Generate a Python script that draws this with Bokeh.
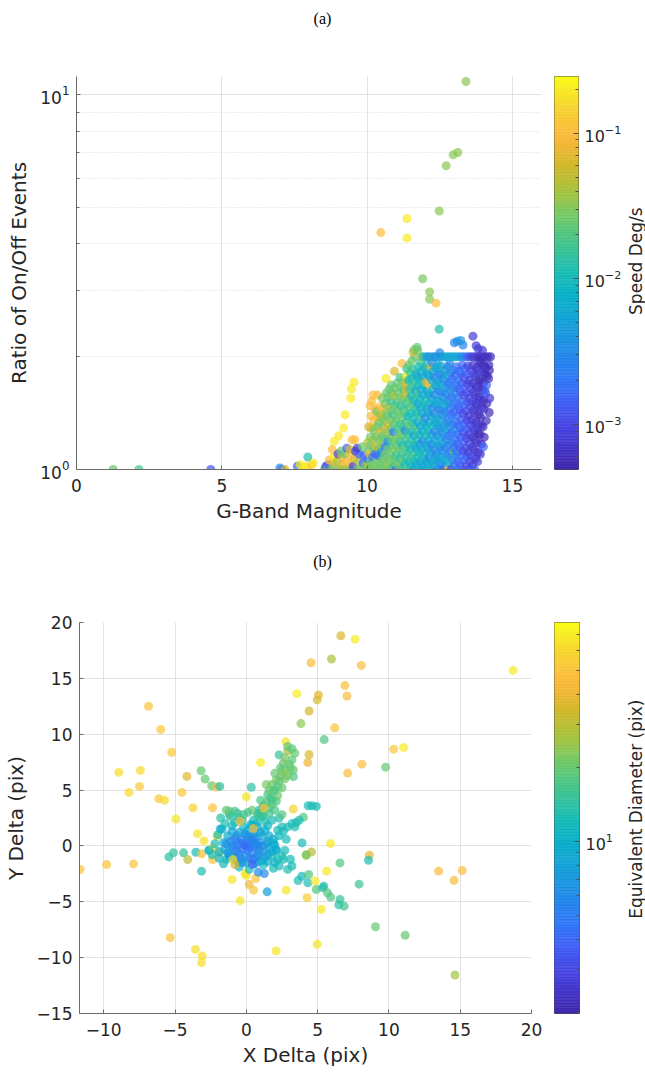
import numpy as np
from bokeh.plotting import figure
from bokeh.layouts import column, row
from bokeh.models import ColumnDataSource, Range1d, FixedTicker, LogTickFormatter
from bokeh.core.properties import value
from bokeh.transform import log_cmap
from bokeh.embed import file_html
from bokeh.resources import INLINE

# ---------------------------------------------------------------------------
# (a) stars: (G-band magnitude, on/off event ratio, apparent speed deg/s)
# ---------------------------------------------------------------------------
a_isolated = [
    (1.26, 1.00, .025), (2.15, 1.00, .018), (4.62, 1.00, .0012), (7.00, 1.01, .003),
    (7.08, 1.00, .002), (7.17, 1.00, .065), (7.60, 1.02, .0015), (7.70, 1.03, .2),
    (7.78, 1.00, .2), (7.88, 1.02, .2), (7.95, 1.01, .2), (8.10, 1.03, .1),
    (7.96, 1.08, .012), (8.15, 1.04, .2),
]
a_outliers = [
    (13.40, 10.86, .032), (13.12, 7.02, .032), (12.96, 6.92, .032), (12.72, 6.47, .032),
    (12.48, 4.90, .032), (11.37, 4.68, .2), (10.47, 4.29, .1), (11.37, 4.15, .2),
    (11.91, 3.23, .028), (12.15, 2.98, .032), (12.15, 2.85, .032), (12.37, 2.78, .1),
    (12.48, 2.37, .012), (13.64, 2.27, .0008), (13.22, 2.21, .004), (13.10, 2.20, .004),
    (13.00, 2.18, .003), (13.75, 2.14, .0008), (13.82, 2.10, .0008), (11.62, 2.09, .03),
    (11.72, 2.12, .025),
]
a_band_9 = [
    (8.52, 1.00, .025), (8.58, 1.02, .0008), (8.63, 1.00, .03), (8.66, 1.03, .0015), (8.70, 1.06, .1),
    (8.78, 1.00, .025), (8.82, 1.04, .065), (8.85, 1.08, .2), (8.80, 1.13, .1), (8.87, 1.19, .2),
    (8.93, 1.00, .03), (8.97, 1.05, .04), (9.00, 1.10, .0008), (9.02, 1.23, .2),
    (9.08, 1.00, .03), (9.12, 1.03, .065), (9.14, 1.08, .065), (9.10, 1.12, .025), (9.19, 1.29, .2),
    (9.24, 1.40, .2), (9.22, 1.00, .04), (9.27, 1.05, .1), (9.25, 1.10, .025), (9.30, 1.14, .0015),
    (9.38, 1.00, .025), (9.41, 1.04, .1), (9.43, 1.09, .1), (9.40, 1.13, .065), (9.44, 1.55, .2),
    (9.46, 1.64, .2), (9.55, 1.71, .2), (9.48, 1.20, .1), (9.58, 1.20, .1),
    (9.52, 1.02, .0008), (9.56, 1.07, .065), (9.60, 1.12, .0008),
    (9.68, 1.00, .025), (9.70, 1.05, .04), (9.72, 1.10, .0015), (9.66, 1.14, .0008),
    (9.82, 1.00, .03), (9.86, 1.04, .0015), (9.88, 1.09, .0015), (9.84, 1.15, .025), (9.93, 1.02, .025),
]
a_band_10 = [
    (10.00, 1.00, .025), (10.03, 1.03, .04), (10.01, 1.07, .002), (10.04, 1.12, .025), (10.02, 1.18, .04), (10.05, 1.30, .065),
    (10.10, 1.00, .03), (10.12, 1.05, .025), (10.09, 1.10, .1), (10.13, 1.16, .025), (10.11, 1.22, .03), (10.14, 1.29, .065),
    (10.13, 1.39, .1), (10.10, 1.48, .1), (10.20, 1.58, .1),
    (10.22, 1.02, .025), (10.19, 1.08, .002), (10.23, 1.13, .025), (10.21, 1.20, .04), (10.24, 1.27, .025), (10.22, 1.35, .1),
    (10.27, 1.45, .1), (10.16, 1.52, .1),
    (10.30, 1.00, .025), (10.33, 1.05, .03), (10.29, 1.10, .0015), (10.32, 1.15, .065), (10.31, 1.22, .025), (10.34, 1.30, .03),
    (10.36, 1.38, .1), (10.36, 1.58, .1), (10.33, 1.43, .025),
    (10.40, 1.00, .03), (10.43, 1.04, .025), (10.39, 1.09, .002), (10.42, 1.14, .025), (10.41, 1.20, .03), (10.44, 1.26, .065),
    (10.40, 1.33, .025), (10.45, 1.40, .04), (10.43, 1.47, .1),
    (10.50, 1.01, .025), (10.53, 1.06, .025), (10.49, 1.11, .003), (10.52, 1.17, .03), (10.51, 1.23, .025), (10.54, 1.30, .025),
    (10.50, 1.37, .04), (10.55, 1.45, .1), (10.52, 1.55, .03),
    (10.60, 1.00, .025), (10.63, 1.04, .03), (10.59, 1.09, .025), (10.62, 1.15, .002), (10.61, 1.21, .025), (10.64, 1.28, .065),
    (10.60, 1.35, .025), (10.65, 1.42, .03), (10.62, 1.50, .025), (10.66, 1.60, .025), (10.65, 1.75, .2),
    (10.70, 1.02, .03), (10.73, 1.07, .025), (10.69, 1.13, .025), (10.72, 1.19, .003), (10.71, 1.25, .03), (10.74, 1.32, .065),
    (10.70, 1.39, .025), (10.75, 1.47, .04), (10.72, 1.56, .025), (10.76, 1.64, .025),
    (10.80, 1.00, .025), (10.83, 1.05, .03), (10.79, 1.10, .025), (10.82, 1.16, .016), (10.81, 1.22, .025), (10.84, 1.29, .025),
    (10.80, 1.36, .03), (10.85, 1.44, .025), (10.82, 1.52, .016), (10.86, 1.60, .025), (10.83, 1.68, .025),
    (10.90, 1.02, .016), (10.93, 1.07, .025), (10.89, 1.13, .03), (10.92, 1.19, .025), (10.91, 1.26, .002), (10.94, 1.33, .025),
    (10.90, 1.40, .016), (10.95, 1.48, .025), (10.92, 1.57, .04), (10.96, 1.65, .025), (10.94, 1.83, .065),
]
a_band_11 = [
    (11.00, 1.00, .0015), (11.03, 1.04, .025), (10.99, 1.09, .016), (11.02, 1.15, .025), (11.01, 1.21, .03), (11.04, 1.28, .016),
    (11.00, 1.35, .025), (11.05, 1.43, .025), (11.02, 1.51, .016), (11.06, 1.60, .025), (11.03, 1.70, .025),
    (11.10, 1.02, .025), (11.13, 1.07, .016), (11.09, 1.13, .025), (11.12, 1.19, .016), (11.11, 1.25, .025), (11.14, 1.32, .016),
    (11.10, 1.40, .025), (11.15, 1.48, .016), (11.12, 1.56, .03), (11.16, 1.66, .025), (11.13, 1.76, .016),
    (11.20, 1.00, .016), (11.23, 1.05, .025), (11.19, 1.10, .016), (11.22, 1.16, .01), (11.21, 1.23, .025), (11.24, 1.30, .016),
    (11.20, 1.37, .025), (11.25, 1.45, .016), (11.22, 1.54, .025), (11.26, 1.63, .016), (11.23, 1.73, .025), (11.20, 1.92, .1),
    (11.30, 1.03, .01), (11.33, 1.08, .016), (11.29, 1.14, .025), (11.32, 1.20, .016), (11.31, 1.27, .003), (11.34, 1.34, .016),
    (11.30, 1.42, .025), (11.35, 1.50, .016), (11.33, 1.58, .065), (11.33, 1.64, .065), (11.32, 1.70, .065), (11.35, 1.78, .2),
    (11.36, 1.86, .016),
    (11.40, 1.00, .025), (11.43, 1.05, .01), (11.39, 1.11, .016), (11.42, 1.17, .01), (11.41, 1.24, .016), (11.44, 1.31, .025),
    (11.40, 1.39, .01), (11.45, 1.47, .016), (11.42, 1.55, .025), (11.46, 1.64, .016), (11.43, 1.73, .01), (11.47, 1.82, .016),
    (11.44, 1.90, .025),
    (11.50, 1.02, .01), (11.53, 1.07, .016), (11.49, 1.13, .01), (11.52, 1.19, .016), (11.51, 1.26, .01), (11.54, 1.33, .016),
    (11.50, 1.41, .01), (11.55, 1.49, .025), (11.52, 1.57, .01), (11.56, 1.66, .016), (11.53, 1.75, .01), (11.57, 1.85, .016),
    (11.54, 1.95, .025),
    (11.60, 1.00, .006), (11.63, 1.05, .01), (11.59, 1.10, .016), (11.62, 1.16, .01), (11.61, 1.23, .006), (11.64, 1.30, .016),
    (11.60, 1.37, .01), (11.65, 1.45, .016), (11.62, 1.53, .01), (11.66, 1.62, .006), (11.63, 1.71, .016), (11.67, 1.80, .01),
    (11.64, 2.00, .025), (11.58, 2.06, .065),
    (11.70, 1.03, .006), (11.73, 1.08, .01), (11.69, 1.14, .006), (11.72, 1.20, .01), (11.71, 1.27, .016), (11.74, 1.34, .006),
    (11.70, 1.42, .01), (11.75, 1.50, .006), (11.72, 1.59, .016), (11.76, 1.68, .01), (11.73, 1.77, .006), (11.77, 1.88, .01),
    (11.74, 2.08, .025),
    (11.80, 1.00, .01), (11.83, 1.05, .006), (11.79, 1.11, .01), (11.82, 1.17, .006), (11.81, 1.24, .01), (11.84, 1.31, .006),
    (11.80, 1.39, .016), (11.85, 1.47, .006), (11.82, 1.55, .01), (11.86, 1.64, .006), (11.83, 1.73, .01), (11.87, 1.83, .006),
    (11.84, 1.93, .016), (11.88, 2.00, .04),
    (11.90, 1.02, .006), (11.93, 1.07, .01), (11.89, 1.13, .006), (11.92, 1.19, .003), (11.91, 1.26, .006), (11.94, 1.33, .01),
    (11.90, 1.41, .006), (11.95, 1.49, .01), (11.92, 1.58, .006), (11.96, 1.67, .01), (11.93, 1.76, .006), (11.97, 1.86, .01),
    (11.94, 2.00, .01),
]
a_band_12 = [
    (12.00, 1.00, .006), (12.03, 1.05, .006), (11.99, 1.10, .01), (12.02, 1.16, .006), (12.01, 1.23, .01), (12.04, 1.30, .006),
    (12.00, 1.37, .003), (12.05, 1.45, .006), (12.02, 1.53, .01), (12.06, 1.62, .006), (12.03, 1.71, .065), (12.07, 1.80, .006),
    (12.04, 1.90, .01), (12.05, 2.00, .006),
    (12.10, 1.03, .006), (12.13, 1.08, .003), (12.09, 1.14, .006), (12.12, 1.20, .006), (12.11, 1.27, .01), (12.14, 1.34, .006),
    (12.10, 1.42, .006), (12.15, 1.50, .01), (12.12, 1.59, .006), (12.16, 1.68, .1), (12.13, 1.78, .006), (12.19, 1.88, .065),
    (12.14, 2.00, .003),
    (12.20, 1.00, .01), (12.23, 1.05, .006), (12.19, 1.11, .006), (12.22, 1.17, .003), (12.21, 1.24, .006), (12.24, 1.31, .01),
    (12.20, 1.39, .006), (12.25, 1.47, .003), (12.22, 1.55, .006), (12.26, 1.64, .01), (12.23, 1.73, .006), (12.27, 1.83, .006),
    (12.24, 1.93, .003), (12.25, 2.00, .006),
    (12.30, 1.02, .006), (12.33, 1.07, .006), (12.29, 1.13, .003), (12.32, 1.19, .006), (12.31, 1.26, .003), (12.34, 1.33, .006),
    (12.30, 1.41, .003), (12.35, 1.49, .006), (12.32, 1.58, .003), (12.36, 1.67, .006), (12.33, 1.76, .003), (12.37, 1.86, .006),
    (12.34, 2.00, .003),
    (12.40, 1.00, .003), (12.43, 1.05, .006), (12.39, 1.10, .003), (12.42, 1.16, .006), (12.41, 1.23, .003), (12.44, 1.30, .006),
    (12.40, 1.37, .006), (12.45, 1.45, .003), (12.42, 1.53, .006), (12.46, 1.62, .003), (12.43, 1.71, .006), (12.47, 1.80, .003),
    (12.44, 1.90, .006), (12.45, 2.00, .006), (12.50, 2.05, .003),
    (12.50, 1.00, .006), (12.53, 1.04, .003), (12.49, 1.09, .006), (12.52, 1.15, .003), (12.51, 1.22, .006), (12.54, 1.29, .003),
    (12.50, 1.36, .006), (12.55, 1.44, .003), (12.52, 1.52, .006), (12.56, 1.61, .003), (12.53, 1.70, .006), (12.57, 1.79, .003),
    (12.54, 1.89, .006), (12.55, 2.00, .003),
    (12.60, 1.00, .0015), (12.63, 1.06, .006), (12.59, 1.12, .003), (12.62, 1.18, .006), (12.61, 1.25, .003), (12.64, 1.32, .006),
    (12.60, 1.40, .003), (12.65, 1.48, .006), (12.62, 1.56, .003), (12.66, 1.65, .006), (12.63, 1.74, .003), (12.67, 1.84, .006),
    (12.65, 2.00, .006),
    (12.70, 1.02, .003), (12.73, 1.08, .006), (12.69, 1.14, .003), (12.72, 1.20, .003), (12.71, 1.27, .006), (12.74, 1.34, .003),
    (12.70, 1.42, .003), (12.75, 1.50, .006), (12.72, 1.59, .003), (12.76, 1.68, .003), (12.73, 1.78, .006), (12.77, 1.88, .003),
    (12.75, 2.00, .006),
    (12.80, 1.00, .1), (12.83, 1.04, .01), (12.79, 1.10, .003), (12.82, 1.16, .003), (12.81, 1.23, .002), (12.84, 1.30, .003),
    (12.80, 1.37, .003), (12.85, 1.45, .002), (12.82, 1.53, .003), (12.86, 1.62, .003), (12.83, 1.71, .002), (12.87, 1.81, .003),
    (12.84, 1.92, .003), (12.85, 2.00, .006),
    (12.90, 1.00, .0008), (12.93, 1.06, .003), (12.89, 1.12, .002), (12.92, 1.18, .003), (12.91, 1.25, .002), (12.94, 1.32, .003),
    (12.90, 1.40, .002), (12.95, 1.48, .003), (12.92, 1.56, .002), (12.96, 1.65, .003), (12.93, 1.74, .002), (12.97, 1.84, .003),
    (12.95, 2.00, .006), (12.97, 1.12, .025),
]
a_band_13 = [
    (13.00, 1.02, .002), (13.03, 1.08, .003), (12.99, 1.14, .002), (13.02, 1.20, .002), (13.01, 1.27, .003), (13.04, 1.34, .002),
    (13.00, 1.42, .0015), (13.05, 1.50, .002), (13.02, 1.59, .003), (13.06, 1.68, .002), (13.03, 1.78, .0015), (13.07, 1.88, .002),
    (13.05, 2.00, .006),
    (13.10, 1.00, .002), (13.13, 1.05, .0015), (13.09, 1.11, .002), (13.12, 1.17, .0015), (13.11, 1.24, .002), (13.14, 1.31, .0015),
    (13.10, 1.39, .002), (13.15, 1.47, .0015), (13.12, 1.55, .002), (13.16, 1.64, .0015), (13.13, 1.73, .002), (13.17, 1.83, .0015),
    (13.15, 2.00, .006),
    (13.20, 1.03, .0015), (13.23, 1.09, .002), (13.19, 1.15, .0015), (13.22, 1.22, .0015), (13.21, 1.29, .002), (13.24, 1.36, .0015),
    (13.20, 1.44, .0015), (13.25, 1.52, .002), (13.22, 1.61, .0015), (13.26, 1.70, .0015), (13.23, 1.80, .002), (13.27, 1.90, .0015),
    (13.25, 2.00, .003),
    (13.30, 1.00, .0015), (13.33, 1.06, .0015), (13.29, 1.12, .001), (13.32, 1.19, .0015), (13.31, 1.26, .001), (13.34, 1.33, .0015),
    (13.30, 1.41, .001), (13.35, 1.49, .0015), (13.32, 1.58, .001), (13.36, 1.67, .0015), (13.33, 1.76, .001), (13.37, 1.86, .0015),
    (13.35, 2.00, .003), (13.30, 2.15, .003),
    (13.40, 1.02, .001), (13.43, 1.08, .0015), (13.39, 1.14, .001), (13.42, 1.21, .001), (13.41, 1.28, .0015), (13.44, 1.35, .001),
    (13.40, 1.43, .001), (13.45, 1.51, .0015), (13.42, 1.60, .001), (13.46, 1.69, .001), (13.43, 1.79, .0015), (13.47, 1.89, .001),
    (13.45, 2.00, .0015),
    (13.50, 1.00, .001), (13.53, 1.05, .001), (13.49, 1.11, .0008), (13.52, 1.17, .001), (13.51, 1.24, .0008), (13.54, 1.31, .001),
    (13.50, 1.39, .0008), (13.55, 1.47, .001), (13.52, 1.55, .0008), (13.56, 1.64, .001), (13.53, 1.73, .0008), (13.57, 1.83, .001),
    (13.55, 2.00, .001),
    (13.60, 1.00, .0015), (13.63, 1.03, .0008), (13.59, 1.09, .001), (13.62, 1.15, .0008), (13.61, 1.22, .0008), (13.64, 1.29, .001),
    (13.60, 1.36, .0008), (13.65, 1.44, .0008), (13.62, 1.52, .001), (13.66, 1.61, .0008), (13.63, 1.70, .0008), (13.67, 1.80, .001),
    (13.64, 1.90, .0008), (13.65, 2.00, .0008),
    (13.70, 1.00, .0015), (13.73, 1.07, .0008), (13.69, 1.13, .0008), (13.72, 1.20, .0006), (13.71, 1.27, .0008), (13.74, 1.34, .0006),
    (13.70, 1.42, .0008), (13.75, 1.50, .0006), (13.72, 1.58, .0008), (13.76, 1.67, .0006), (13.73, 1.77, .0008), (13.77, 1.87, .0006),
    (13.75, 2.00, .0008),
    (13.80, 1.05, .0008), (13.83, 1.11, .0006), (13.79, 1.18, .0008), (13.82, 1.25, .0006), (13.81, 1.32, .0008), (13.84, 1.40, .0006),
    (13.80, 1.48, .0008), (13.85, 1.56, .0006), (13.82, 1.65, .0008), (13.86, 1.74, .0006), (13.83, 1.84, .0008), (13.87, 1.95, .0006),
    (13.85, 2.00, .0006),
    (13.90, 1.10, .0008), (13.93, 1.17, .0006), (13.89, 1.24, .0006), (13.92, 1.31, .0008), (13.91, 1.38, .0006), (13.94, 1.46, .0006),
    (13.90, 1.54, .0008), (13.95, 1.63, .0006), (13.92, 1.72, .0006), (13.96, 1.82, .0008), (13.93, 1.92, .0006), (13.95, 2.00, .0006),
    (14.00, 1.15, .0015), (14.03, 1.22, .0006), (13.99, 1.30, .0006), (14.02, 1.45, .0008), (14.01, 1.53, .0006), (14.04, 1.62, .0008),
    (14.00, 1.70, .0006), (14.05, 1.80, .0006), (14.02, 1.90, .0006), (14.05, 2.00, .0006), (13.97, 2.08, .0008),
    (14.10, 1.35, .0006), (14.12, 1.50, .0006), (14.08, 1.60, .0015), (14.11, 1.68, .0015), (14.13, 1.78, .0006), (14.09, 1.87, .0006),
    (14.15, 2.00, .0006),
    (14.20, 1.42, .0006), (14.22, 1.55, .0008), (14.18, 1.75, .0006), (14.21, 1.84, .0006), (14.19, 1.90, .0006), (14.25, 2.00, .0006),
]

# ---------------------------------------------------------------------------
# (b) detections: (x offset pix, y offset pix, equivalent diameter pix)
# ---------------------------------------------------------------------------
b_outer = [
    (6.63, 18.81, 36), (7.63, 18.51, 70), (4.54, 16.40, 48), (5.97, 16.73, 28), (8.06, 16.16, 48),
    (18.71, 15.71, 68), (3.54, 13.63, 70), (5.06, 13.51, 38), (4.97, 13.07, 36), (6.91, 14.35, 48),
    (7.06, 13.42, 48), (-6.86, 12.50, 50), (4.40, 12.08, 34), (-6.00, 10.42, 52), (3.83, 10.95, 24),
    (6.20, 10.57, 50), (5.46, 9.52, 18), (-5.23, 8.39, 52), (2.77, 9.32, 66), (10.34, 8.66, 52),
    (11.03, 8.81, 70), (4.40, 8.18, 36), (8.11, 7.32, 48), (9.77, 7.05, 20), (7.11, 6.52, 48),
    (1.00, 7.47, 70), (4.31, 7.47, 40), (-8.94, 6.58, 64), (-7.43, 6.76, 62), (-4.17, 6.22, 38),
    (-3.17, 6.73, 20), (-2.89, 5.98, 20), (-8.23, 4.79, 62), (-7.49, 5.33, 52), (-4.51, 4.79, 52),
    (-2.43, 5.39, 20), (-2.06, 5.27, 48), (-1.86, 5.33, 14), (-6.14, 4.23, 52), (-5.74, 4.08, 62),
    (-3.74, 3.42, 58), (-2.37, 3.42, 50), (-4.94, 2.41, 66), (-3.43, 1.10, 65), (-2.97, 0.45, 65),
    (-2.06, 0.86, 66), (-1.83, 1.52, 9), (-11.66, -2.11, 50), (-9.80, -1.67, 50), (-7.91, -1.61, 50),
    (-5.43, -0.98, 14), (-5.11, -0.60, 15), (-4.40, -0.62, 15), (-4.11, -1.22, 30), (-3.54, -0.57, 12),
    (-3.14, -2.26, 13), (-3.14, -0.71, 48), (-2.63, -0.39, 10), (-2.37, -1.22, 50), (-2.37, -0.18, 62),
    (-1.89, -0.62, 50), (-1.00, -3.00, 66), (-0.43, -4.90, 66), (-0.09, -2.50, 66), (0.00, -2.65, 66),
    (0.20, -3.45, 40), (0.66, -2.92, 50), (0.51, -3.96, 50), (1.46, -4.11, 8), (1.26, -2.47, 6),
    (0.83, -2.35, 6), (2.80, -3.96, 66), (3.63, -3.10, 13), (3.89, -2.71, 12), (4.31, -3.30, 13),
    (4.26, -4.64, 56), (4.37, -2.56, 18), (4.83, -3.15, 68), (4.91, -3.90, 18), (5.37, -3.75, 15),
    (5.63, -2.26, 68), (5.43, -3.60, 13), (5.69, -4.20, 18), (5.91, -4.58, 18), (5.26, -5.68, 68),
    (6.57, -4.79, 15), (6.49, -5.27, 14), (6.86, -5.39, 16), (6.57, -1.52, 18), (5.91, 0.21, 68),
    (8.63, -0.83, 38), (8.57, -1.28, 13), (7.91, -3.42, 16), (3.91, 0.27, 12), (4.20, -0.83, 28),
    (4.57, -0.54, 30), (4.34, 3.60, 12), (4.91, 3.54, 12), (4.60, 3.60, 12), (3.29, 3.30, 58),
    (4.00, 2.56, 18), (9.06, -7.23, 20), (11.14, -8.00, 20), (13.49, -2.26, 48), (14.57, -3.07, 48),
    (15.14, -2.20, 48), (14.63, -11.55, 26), (-5.34, -8.21, 50), (-3.57, -9.26, 64), (-3.09, -9.85, 64),
    (-3.14, -10.45, 64), (2.09, -9.40, 66), (4.97, -8.81, 66),
]
b_core_teal = [
    (-2.20, 0.20, 12), (-2.00, 1.00, 12), (-1.50, 2.00, 13), (-0.80, 2.10, 12), (-0.30, 2.30, 13),
    (0.50, 2.30, 12), (1.00, 2.60, 13), (1.80, 2.30, 12), (2.50, 1.70, 12), (2.90, 1.70, 12),
    (3.20, 2.00, 12), (3.50, 2.10, 13), (2.30, 0.90, 11), (2.60, 1.30, 12), (1.90, 0.25, 11),
    (2.10, -0.35, 11), (1.80, -0.90, 12), (2.20, -1.20, 12), (2.60, -1.20, 12), (3.10, -1.20, 12),
    (3.20, -1.80, 12), (2.90, -2.10, 13), (2.30, -1.80, 12), (1.90, -2.00, 12), (0.90, -1.40, 11),
    (1.20, -1.70, 12), (-1.20, -0.80, 11), (-1.40, -1.20, 12), (-2.60, -0.40, 12), (-1.80, 2.50, 14),
    (-1.20, 2.80, 14), (-0.50, 2.50, 13), (0.40, 1.80, 11), (0.80, 2.90, 14), (1.20, 3.60, 13),
    (0.90, 3.20, 12), (0.35, 5.25, 14), (2.30, 8.15, 15), (2.50, -0.90, 13),
    (-2.40, -0.80, 12), (-1.90, -1.10, 11), (-1.00, 1.80, 12), (-0.20, 1.70, 11), (0.70, 2.00, 11),
    (1.50, 1.80, 11), (2.20, 1.40, 12), (2.80, 0.60, 12), (2.70, -0.40, 12), (2.00, -1.50, 11),
    (1.50, -1.40, 10), (0.20, -2.10, 12), (-0.50, -1.90, 11), (-1.60, -1.60, 12), (1.30, 2.20, 12),
    (3.40, 1.70, 13), (2.30, 2.50, 13), (3.70, 2.30, 13),
]
b_core_cyan = [
    (-1.50, -0.30, 8), (-1.30, 0.90, 9), (-1.00, 1.30, 9), (-0.50, 1.20, 8), (0.10, 1.40, 9),
    (0.60, 1.20, 8.5), (1.10, 0.90, 9), (1.50, 0.40, 8), (1.60, -0.20, 9), (1.50, -0.80, 8.5),
    (1.10, -1.30, 9), (0.60, -1.60, 8), (0.00, -1.50, 8.5), (-0.60, -1.40, 9), (-1.20, -1.00, 8),
    (-1.60, 0.30, 9), (-0.90, -0.90, 7.5), (1.30, 1.40, 10), (0.80, 1.70, 9.5), (1.90, 0.60, 10),
    (2.10, -0.40, 9.5), (-1.90, -0.50, 10), (-1.70, 1.50, 10), (0.30, 1.90, 10),
    (-1.30, -0.60, 7), (1.40, 0.20, 7.5), (1.30, -1.00, 8), (0.20, -1.10, 6.5), (-0.30, -1.50, 7),
    (-0.80, -1.10, 8), (-1.40, 0.20, 7), (1.60, 0.90, 9), (-0.70, 0.90, 7), (0.50, 0.90, 7),
    (1.00, 1.20, 8), (2.00, 0.10, 9), (1.80, -0.50, 8.5), (-0.10, 1.10, 7.5),
]
b_core_blue = [
    (-0.90, -0.20, 5), (-0.60, 0.10, 5.5), (-0.30, -0.30, 4.5), (0.00, 0.00, 5), (0.30, 0.20, 6),
    (0.60, -0.10, 5.5), (0.90, 0.30, 6.5), (-0.50, -0.70, 5), (-0.10, -0.90, 6), (0.40, -0.60, 5),
    (0.80, -0.80, 6.5), (-1.10, 0.40, 6), (-0.80, 0.60, 5.5), (-0.30, 0.50, 5), (0.20, 0.70, 6),
    (0.60, 0.60, 6.5), (1.10, 0.00, 7), (1.20, -0.50, 7), (-0.20, 0.25, 4.5), (0.10, -0.40, 5),
    (0.50, 0.35, 5.5), (-0.70, -0.45, 5.5), (0.00, 0.90, 6.5), (0.45, -1.20, 4), (-0.40, -1.10, 6),
    (0.25, -0.15, 4.5), (-0.15, 0.05, 4), (0.70, 0.15, 6),
    (-1.00, 0.00, 6), (-0.50, 0.30, 5), (0.30, 0.50, 5.5), (0.80, 0.00, 6), (0.90, -0.40, 6),
    (0.70, -1.00, 6),
]
b_arm_green = [
    (1.20, 3.50, 18), (1.60, 3.40, 20), (2.10, 4.00, 18), (1.70, 4.30, 16), (1.50, 4.60, 17),
    (1.90, 4.90, 19), (1.60, 5.00, 20), (1.80, 5.50, 20), (2.10, 5.90, 22), (2.30, 5.80, 19),
    (2.40, 6.20, 20), (2.50, 6.70, 22), (2.80, 6.70, 24), (3.30, 6.80, 20), (3.30, 6.20, 18),
    (2.60, 7.40, 20), (3.00, 7.30, 20), (3.20, 7.70, 19), (2.90, 8.50, 28), (2.90, 8.90, 20),
    (3.20, 8.70, 19), (2.50, 2.80, 18), (0.40, 3.20, 20), (0.80, 2.70, 16), (1.20, 2.70, 15),
    (-1.40, 3.20, 20), (-1.20, 3.10, 20), (-0.80, 3.10, 16), (-1.10, 2.60, 15), (4.20, -0.80, 22),
    (-0.60, 2.90, 16), (1.00, 4.10, 18), (1.40, 5.50, 22), (2.00, 6.50, 20), (2.70, 7.90, 22),
    (1.40, 3.90, 18), (1.80, 3.70, 19), (2.20, 4.50, 20), (1.80, 4.10, 17), (2.50, 5.20, 20),
    (2.20, 5.30, 19), (2.70, 6.00, 21), (2.90, 6.30, 21), (3.10, 7.00, 20), (2.40, 7.00, 19),
    (1.10, 3.00, 16), (1.60, 2.90, 16), (2.00, 3.20, 17), (0.10, 3.00, 17), (-0.20, 2.80, 16),
    (3.40, 8.30, 20), (2.00, 5.00, 18),
]
b_core_other = [
    (-0.43, 2.20, 48), (1.23, 3.39, 50), (-0.94, -1.22, 62), (-0.80, -1.67, 35), (0.00, 4.40, 66),
    (0.43, -1.67, 4), (0.50, 1.55, 48),
]

captions = ["(a)", "(b)"]
bar_titles = ["Speed Deg/s", "Equivalent Diameter (pix)"]

# colour-scale limits of the two colour bars
SPEED_LOW, SPEED_HIGH = 4.9e-4, 0.245
DIAM_LOW, DIAM_HIGH = 1.99, 78.3

# parula-style colour ramp
parula_stops = [
    (0.00, (62, 38, 168)), (0.04, (66, 48, 192)), (0.11, (71, 70, 228)), (0.17, (64, 95, 245)),
    (0.225, (48, 118, 248)), (0.30, (33, 138, 232)), (0.38, (18, 162, 214)), (0.45, (8, 178, 198)),
    (0.51, (30, 190, 176)), (0.60, (80, 198, 128)), (0.66, (125, 200, 95)), (0.70, (160, 196, 65)),
    (0.77, (205, 185, 42)), (0.82, (238, 182, 50)), (0.86, (252, 188, 60)), (0.93, (246, 214, 45)),
    (1.00, (249, 251, 21)),
]


def make_palette(n=256):
    t = np.linspace(0, 1, n)
    pos = [s[0] for s in parula_stops]
    rgb = np.array([s[1] for s in parula_stops], dtype=float)
    chans = [np.interp(t, pos, rgb[:, k]) for k in range(3)]
    return ["#%02x%02x%02x" % (int(round(r)), int(round(g)), int(round(b)))
            for r, g, b in zip(*chans)]


PALETTE = make_palette()
FONT = "DejaVu Sans"
INK = "#262626"
AXIS = "#6b6b6b"
GRID = "#e2e2e2"

PAGE_W = 645
MAIN_W = 548
BAR_W = 76
TITLE_W = PAGE_W - MAIN_W - BAR_W


def columns(*groups):
    pts = [p for g in groups for p in g]
    return ([p[0] for p in pts], [p[1] for p in pts], [p[2] for p in pts])


def bare(width, height):
    p = figure(width=width, height=height, x_range=Range1d(0, width), y_range=Range1d(0, height),
               x_axis_location=None, y_axis_location=None, output_backend="svg",
               toolbar_location=None, min_border=0)
    p.xgrid.visible = False
    p.ygrid.visible = False
    p.outline_line_color = None
    return p


def caption(text, height, y_from_top):
    p = bare(PAGE_W, height)
    p.text(x=[322], y=[height - y_from_top], text=[text], text_align="center",
           text_baseline="middle", text_font=value("Liberation Serif"),
           text_font_size="16px", text_color="black")
    return p


def bar_title(text, height, y_from_top):
    p = bare(TITLE_W, height)
    p.text(x=[TITLE_W - 10], y=[height - y_from_top], text=[text], angle=np.pi / 2,
           text_align="center", text_baseline="middle", text_font=value(FONT),
           text_font_size="17px", text_color=INK)
    return p


def style_axes(p):
    for ax in (p.xaxis[0], p.yaxis[0]):
        ax.axis_line_color = AXIS
        ax.major_tick_line_color = AXIS
        ax.minor_tick_line_color = AXIS
        ax.major_tick_in = 4
        ax.major_tick_out = 0
        ax.minor_tick_in = 0
        ax.minor_tick_out = 0
        ax.major_label_text_font = FONT
        ax.major_label_text_font_size = "17px"
        ax.major_label_text_color = INK
        ax.axis_label_text_font = FONT
        ax.axis_label_text_font_size = "20px"
        ax.axis_label_text_font_style = "normal"
        ax.axis_label_text_color = INK
    p.xaxis.major_label_standoff = 9
    p.yaxis.major_label_standoff = 7
    p.xaxis.axis_label_standoff = 4
    p.yaxis.axis_label_standoff = 6
    p.grid.grid_line_color = GRID
    p.outline_line_color = None


def colour_bar(lo, hi, ticks, minor, height, top, bottom):
    cb = figure(width=BAR_W, height=height, x_range=Range1d(0, 1), y_range=Range1d(lo, hi),
                y_axis_type="log", y_axis_location="right", x_axis_location=None,
                output_backend="svg", toolbar_location=None,
                min_border_left=6, min_border_right=BAR_W - 31,
                min_border_top=top, min_border_bottom=bottom)
    edges = np.logspace(np.log10(lo), np.log10(hi), len(PALETTE) + 1)
    cb.quad(left=0, right=1, bottom=edges[:-1], top=edges[1:],
            fill_color=PALETTE, line_color=PALETTE, line_width=0.6)
    cb.xgrid.visible = False
    cb.ygrid.visible = False
    ax = cb.yaxis[0]
    ax.ticker = FixedTicker(ticks=ticks, minor_ticks=minor)
    ax.formatter = LogTickFormatter()
    ax.axis_line_color = None
    ax.major_tick_line_color = "#4d4d4d"
    ax.minor_tick_line_color = "#4d4d4d"
    ax.major_tick_in = 5
    ax.major_tick_out = 0
    ax.minor_tick_in = 3
    ax.minor_tick_out = 0
    ax.major_label_standoff = 6
    ax.major_label_text_font = FONT
    ax.major_label_text_font_size = "16px"
    ax.major_label_text_color = INK
    cb.outline_line_color = "#555555"
    cb.outline_line_width = 1
    return cb


# ---------------------------- panel (a) ------------------------------------
CAP_A_H, ROW_A_H = 40, 496
mag, ratio, speed = columns(a_isolated, a_band_9, a_band_10, a_band_11,
                            a_band_12, a_band_13, a_outliers)
src_a = ColumnDataSource(dict(mag=mag, ratio=ratio, speed=speed))

pa = figure(width=MAIN_W, height=ROW_A_H, x_range=Range1d(0, 16), y_range=Range1d(1, 11.2),
            y_axis_type="log", output_backend="svg", toolbar_location=None,
            min_border_left=76, min_border_right=7, min_border_top=31, min_border_bottom=67)
pa.scatter("mag", "ratio", source=src_a, size=9, line_color=None, fill_alpha=0.7,
           fill_color=log_cmap("speed", PALETTE, SPEED_LOW, SPEED_HIGH))
style_axes(pa)
pa.xaxis.ticker = FixedTicker(ticks=[0, 5, 10, 15])
pa.yaxis.ticker = FixedTicker(ticks=[1, 10], minor_ticks=[2, 3, 4, 5, 6, 7, 8, 9])
pa.yaxis.formatter = LogTickFormatter()
pa.yaxis.minor_tick_in = 3
pa.ygrid.minor_grid_line_color = "#d9d9d9"
pa.ygrid.minor_grid_line_dash = "1 2"
pa.xaxis.axis_label = "G-Band Magnitude"
pa.yaxis.axis_label = "Ratio of On/Off Events"

ca = colour_bar(SPEED_LOW, SPEED_HIGH, [1e-3, 1e-2, 1e-1],
                [6e-4, 7e-4, 8e-4, 9e-4, 2e-3, 3e-3, 4e-3, 5e-3, 6e-3, 7e-3, 8e-3, 9e-3,
                 2e-2, 3e-2, 4e-2, 5e-2, 6e-2, 7e-2, 8e-2, 9e-2, 0.2],
                ROW_A_H, 36, 67)
ta = bar_title(bar_titles[0], ROW_A_H, 273 - CAP_A_H)

# ---------------------------- panel (b) ------------------------------------
CAP_B_H, ROW_B_H = 50, 486
dx, dy, diam = columns(b_outer, b_core_teal, b_core_cyan, b_core_blue,
                       b_arm_green, b_core_other)
src_b = ColumnDataSource(dict(dx=dx, dy=dy, diam=diam))

pb = figure(width=MAIN_W, height=ROW_B_H, x_range=Range1d(-11.7, 20), y_range=Range1d(-15, 20),
            output_backend="svg", toolbar_location=None,
            min_border_left=73, min_border_right=17, min_border_top=36, min_border_bottom=58)
pb.scatter("dx", "dy", source=src_b, size=9, line_color=None, fill_alpha=0.7,
           fill_color=log_cmap("diam", PALETTE, DIAM_LOW, DIAM_HIGH))
style_axes(pb)
pb.xaxis.ticker = FixedTicker(ticks=[-10, -5, 0, 5, 10, 15, 20])
pb.yaxis.ticker = FixedTicker(ticks=[-15, -10, -5, 0, 5, 10, 15, 20])
pb.xaxis.axis_label = "X Delta (pix)"
pb.yaxis.axis_label = "Y Delta (pix)"

cbb = colour_bar(DIAM_LOW, DIAM_HIGH, [10],
                 [2, 3, 4, 5, 6, 7, 8, 9, 20, 30, 40, 50, 60, 70],
                 ROW_B_H, 36, 59)
tb = bar_title(bar_titles[1], ROW_B_H, 818 - (ROW_A_H + CAP_A_H + CAP_B_H))

layout = column(
    caption(captions[0], CAP_A_H, 18),
    row(pa, ca, ta),
    caption(captions[1], CAP_B_H, 25),
    row(pb, cbb, tb),
)

with open("out.html", "w") as f:
    f.write(file_html(layout, INLINE))
